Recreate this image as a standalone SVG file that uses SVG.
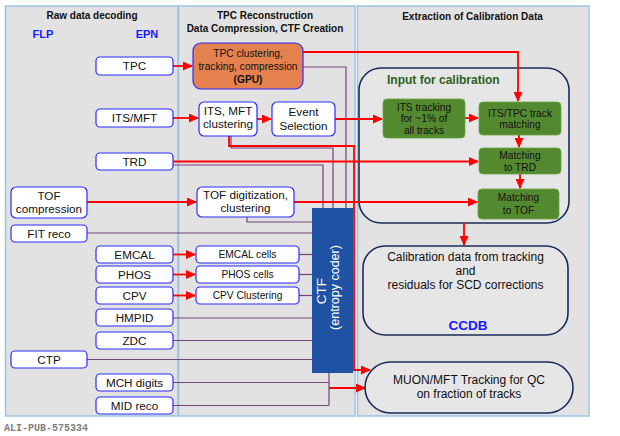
<svg xmlns="http://www.w3.org/2000/svg" width="620" height="436" viewBox="0 0 620 436">
<style>
.panel{fill:#e2e2e2;stroke:#9dc3e6;stroke-width:1.5}
.title{font-family:"Liberation Sans",Arial,sans-serif;font-size:10px;font-weight:bold;fill:#111;text-anchor:middle}
.lbl{font-family:"Liberation Sans",Arial,sans-serif;font-size:11.7px;fill:#111;text-anchor:middle}
.sm{font-family:"Liberation Sans",Arial,sans-serif;font-size:10.2px;fill:#111;text-anchor:middle}
.big{font-family:"Liberation Sans",Arial,sans-serif;font-size:12px;fill:#111;text-anchor:middle}
.node{fill:#fff;stroke:#2a2aff;stroke-width:1.2}
.green{fill:#548a2f;stroke:#6aa242;stroke-width:0.8}
.round{fill:#e6e6e6;stroke:#1c2b5a;stroke-width:1.6}
.red{fill:none;stroke:#ff0000;stroke-width:1.8}
.pur{fill:none;stroke:#75427a;stroke-width:1.2}
.blue{font-family:"Liberation Sans",Arial,sans-serif;font-weight:bold;fill:#1a1aff;text-anchor:middle}
</style>
<defs>
<marker id="ah" markerUnits="userSpaceOnUse" markerWidth="10" markerHeight="9" refX="9" refY="4.5" orient="auto">
<path d="M0,0 L10,4.5 L0,9 z" fill="#ff0000"/>
</marker>
</defs>
<rect width="620" height="436" fill="#fff"/>
<g id="panels">
<rect class="panel" x="5.5" y="6" width="172.5" height="410"/>
<rect class="panel" x="178.5" y="6" width="176.5" height="410"/>
<rect class="panel" x="357.5" y="6" width="231.5" height="410"/>
<text class="title" x="92" y="19">Raw data decoding</text>
<text class="blue" x="43" y="38" font-size="11">FLP</text>
<text class="blue" x="147" y="38" font-size="11">EPN</text>
<text class="title" x="265" y="19">TPC Reconstruction</text>
<text class="title" x="265" y="32">Data Compression, CTF Creation</text>
<text class="title" x="472.5" y="20">Extraction of Calibration Data</text>
</g>
<g id="containers">
<rect class="round" x="359" y="68" width="210" height="155" rx="22"/>
<text x="387" y="84" font-family="Liberation Sans, Arial, sans-serif" font-size="12" font-weight="bold" fill="#2c5f1c">Input for calibration</text>
</g>
<g id="connectors">
<path class="pur" d="M303 67H346V208"/>
<path class="pur" d="M231 136V148H333V208"/>
<path class="pur" d="M173 165H323V208"/>
<path class="pur" d="M247 217V222H312"/>
<path class="pur" d="M87 233H312"/>
<path class="pur" d="M299 254.5H312"/>
<path class="pur" d="M299 274.5H312"/>
<path class="pur" d="M299 295.5H312"/>
<path class="pur" d="M173 318H312"/>
<path class="pur" d="M173 340.5H312"/>
<path class="pur" d="M87 359.5H312"/>
<path class="pur" d="M173 382.5H329"/>
<path class="pur" d="M173 405.5H329"/>
<path class="pur" d="M329 373V405.5"/>
<path class="red" d="M173 66H192" marker-end="url(#ah)"/>
<path class="red" d="M173 118H198" marker-end="url(#ah)"/>
<path class="red" d="M257 119H271" marker-end="url(#ah)"/>
<path class="red" d="M303 52H518V101" marker-end="url(#ah)"/>
<path class="red" d="M335 119H382" marker-end="url(#ah)"/>
<path class="red" d="M465 118H478" marker-end="url(#ah)"/>
<path class="red" d="M519 135V147" marker-end="url(#ah)"/>
<path class="red" d="M173 161.5H478" marker-end="url(#ah)"/>
<path class="red" d="M520 174V188" marker-end="url(#ah)"/>
<path class="red" d="M87 202H196" marker-end="url(#ah)"/>
<path class="red" d="M294 202H477" marker-end="url(#ah)"/>
<path class="red" d="M464 223V245" marker-end="url(#ah)"/>
<path class="red" d="M173 254.5H195" marker-end="url(#ah)"/>
<path class="red" d="M173 274.5H195" marker-end="url(#ah)"/>
<path class="red" d="M173 295.5H195" marker-end="url(#ah)"/>
<path class="red" d="M229 136V146H354V370H370" marker-end="url(#ah)"/>
<path class="red" d="M329 388H365" marker-end="url(#ah)"/>
</g>
<g id="n-tpc"><rect class="node" x="96" y="57" width="77" height="18" rx="4"/><text class="lbl" x="134.5" y="70">TPC</text></g>
<g id="n-itsmft"><rect class="node" x="96" y="109" width="77" height="18" rx="4"/><text class="lbl" x="134.5" y="122">ITS/MFT</text></g>
<g id="n-trd"><rect class="node" x="96" y="153" width="77" height="17" rx="4"/><text class="lbl" x="134.5" y="165.5">TRD</text></g>
<g id="n-tofcomp"><rect class="node" x="11" y="187" width="76" height="31" rx="5"/><text class="lbl" x="49" y="199.5">TOF</text><text class="lbl" x="49" y="212.5">compression</text></g>
<g id="n-fit"><rect class="node" x="11" y="225" width="76" height="17" rx="4"/><text class="lbl" x="49" y="237.8">FIT reco</text></g>
<g id="n-emcal"><rect class="node" x="96" y="246" width="77" height="17" rx="4"/><text class="lbl" x="134.5" y="258.8">EMCAL</text></g>
<g id="n-phos"><rect class="node" x="96" y="266" width="77" height="17" rx="4"/><text class="lbl" x="134.5" y="278.8">PHOS</text></g>
<g id="n-cpv"><rect class="node" x="96" y="287" width="77" height="17" rx="4"/><text class="lbl" x="134.5" y="299.8">CPV</text></g>
<g id="n-hmpid"><rect class="node" x="96" y="309" width="77" height="17" rx="4"/><text class="lbl" x="134.5" y="321.8">HMPID</text></g>
<g id="n-zdc"><rect class="node" x="96" y="332" width="77" height="17" rx="4"/><text class="lbl" x="134.5" y="344.8">ZDC</text></g>
<g id="n-ctp"><rect class="node" x="11" y="351" width="76" height="17" rx="4"/><text class="lbl" x="49" y="363.8">CTP</text></g>
<g id="n-mch"><rect class="node" x="96" y="374" width="77" height="17" rx="4"/><text class="lbl" x="134.5" y="386.8">MCH digits</text></g>
<g id="n-mid"><rect class="node" x="96" y="397" width="77" height="17" rx="4"/><text class="lbl" x="134.5" y="409.8">MID reco</text></g>
<g id="n-tpcclus"><rect x="193" y="43" width="110" height="46" rx="8" fill="#e4814f" stroke="#2a2aff" stroke-width="1.2"/><text class="sm" x="248" y="56.5">TPC clustering,</text><text class="sm" x="248" y="70">tracking, compression</text><text class="sm" x="248" y="83" font-weight="bold">(GPU)</text></g>
<g id="n-itsclus"><rect class="node" x="199" y="102" width="58" height="34" rx="5"/><text class="lbl" x="228" y="115">ITS, MFT</text><text class="lbl" x="228" y="128">clustering</text></g>
<g id="n-evsel"><rect class="node" x="272" y="102" width="63" height="34" rx="5"/><text class="lbl" x="303.5" y="116">Event</text><text class="lbl" x="303.5" y="129.5">Selection</text></g>
<g id="n-tofdig"><rect class="node" x="197" y="187" width="97" height="30" rx="5"/><text class="lbl" x="245.5" y="199">TOF digitization,</text><text class="lbl" x="245.5" y="212">clustering</text></g>
<g id="n-emcalc"><rect class="node" x="196" y="246" width="103" height="17" rx="4"/><text class="sm" x="247.5" y="258">EMCAL cells</text></g>
<g id="n-phosc"><rect class="node" x="196" y="266" width="103" height="17" rx="4"/><text class="sm" x="247.5" y="278">PHOS cells</text></g>
<g id="n-cpvc"><rect class="node" x="196" y="287" width="103" height="17" rx="4"/><text class="sm" x="247.5" y="299">CPV Clustering</text></g>
<g id="n-ctf"><rect x="312" y="208" width="41" height="165" fill="#1f52a3"/>
<text transform="translate(326 291) rotate(-90)" font-family="Liberation Sans, Arial, sans-serif" font-size="13.5" fill="#fff" text-anchor="middle">CTF</text>
<text transform="translate(339 287.5) rotate(-90)" font-family="Liberation Sans, Arial, sans-serif" font-size="12.5" fill="#fff" text-anchor="middle">(entropy coder)</text></g>
<g id="n-itstrk"><rect class="green" x="383" y="99" width="82" height="39" rx="4"/><text class="sm" x="424" y="110.5">ITS tracking</text><text class="sm" x="424" y="122">for ~1% of</text><text class="sm" x="424" y="134">all tracks</text></g>
<g id="n-itstpc"><rect class="green" x="479" y="102" width="82" height="33" rx="4"/><text class="sm" x="520" y="116.5">ITS/TPC track</text><text class="sm" x="520" y="128">matching</text></g>
<g id="n-mtrd"><rect class="green" x="479" y="148" width="82" height="26" rx="4"/><text class="sm" x="520" y="159">Matching</text><text class="sm" x="520" y="171">to TRD</text></g>
<g id="n-mtof"><rect class="green" x="478" y="189" width="81" height="30" rx="4"/><text class="sm" x="518.5" y="200.5">Matching</text><text class="sm" x="518.5" y="213.5">to TOF</text></g>
<g id="n-calib"><rect class="round" x="363" y="246" width="205" height="89" rx="22"/><text class="big" x="465.5" y="261">Calibration data from tracking</text><text class="big" x="465.5" y="275">and</text><text class="big" x="465.5" y="288.5">residuals for SCD corrections</text><text class="blue" x="468" y="330" font-size="13.5">CCDB</text></g>
<g id="n-muon"><rect class="round" x="365" y="362" width="208" height="51" rx="25.5"/><text class="big" x="469" y="384">MUON/MFT Tracking for QC</text><text class="big" x="469" y="398">on fraction of tracks</text></g>
<text x="4" y="431" font-family="Liberation Mono, Courier New, monospace" font-size="10" font-weight="bold" fill="#808080">ALI-PUB-575334</text>
</svg>
